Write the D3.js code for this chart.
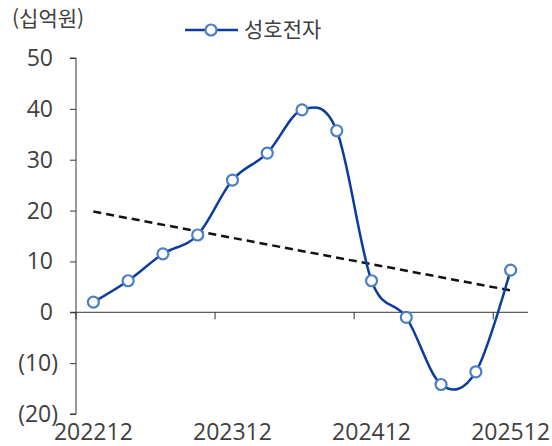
<!DOCTYPE html>
<html lang="ko">
<head>
<meta charset="UTF-8">
<title>성호전자</title>
<style>
  body { margin: 0; background: #fff; }
  svg text { font-family: "Open Sans", "Noto Sans CJK KR", sans-serif; fill: #404040; }
  .kr { font-family: "Noto Sans CJK KR", sans-serif; }
</style>
</head>
<body>
<div id="chart"></div>
<script src="https://d3js.org/d3.v7.min.js"></script>
<script>
  // quarterly periods
  const quarters = ["202212", "202303", "202306", "202309", "202312", "202403", "202406",
                    "202409", "202412", "202503", "202506", "202509", "202512"];
  const values = [2.0, 6.2, 11.5, 15.2, 26.0, 31.3, 39.8, 35.7, 6.2, -1.0, -14.2, -11.7, 8.3];
  // dashed trend line, first and last quarter
  const trendQuarters = ["202212", "202512"];
  const trendValues = [19.8, 4.3];
  const yTicks = [-20, -10, 0, 10, 20, 30, 40, 50];
  const xLabels = ["202212", "202312", "202412", "202512"];
  const seriesName = "성호전자";
  const unitLabel = "(십억원)";

  const width = 552, height = 446;
  const plot = { left: 76, right: 528, top: 58, bottom: 414 };

  const svg = d3.select("#chart").append("svg")
    .attr("width", width)
    .attr("height", height);

  const x = d3.scaleBand().domain(quarters).range([plot.left, plot.right]);
  const cx = d => x(d) + x.bandwidth() / 2;
  const y = d3.scaleLinear().domain([-20, 50]).range([plot.bottom, plot.top]);

  // y axis
  const yAxis = svg.append("g")
    .attr("transform", `translate(${plot.left},0)`)
    .call(d3.axisLeft(y).tickValues(yTicks).tickSize(6).tickPadding(0).tickFormat(""));
  yAxis.select(".domain").attr("d", `M-6,${plot.top}H0V${plot.bottom}H-6`).attr("stroke", "#333");
  yAxis.selectAll(".tick line").attr("stroke", "#333");

  svg.append("g").selectAll("text")
    .data(yTicks)
    .join("text")
    .attr("x", d => d < 0 ? 58 : 53)
    .attr("y", d => y(d))
    .attr("dy", "0.35em")
    .attr("text-anchor", "end")
    .attr("font-size", 23)
    .text(d => d < 0 ? `(${-d})` : d);

  // zero line with category ticks
  const xAxis = svg.append("g")
    .attr("transform", `translate(0,${y(0)})`)
    .call(d3.axisBottom(x).tickValues(xLabels).tickSize(7).tickFormat(""));
  xAxis.select(".domain").attr("d", `M${plot.left - 6},0H${plot.right}`).attr("stroke", "#333");
  xAxis.selectAll(".tick").attr("transform", d => `translate(${x(d)},0)`);
  xAxis.selectAll(".tick line").attr("stroke", "#333");

  svg.append("g").selectAll("text")
    .data(xLabels)
    .join("text")
    .attr("x", d => cx(d))
    .attr("y", 440)
    .attr("text-anchor", "middle")
    .attr("font-size", 23)
    .text(d => d);

  // trend
  svg.append("path")
    .datum(trendQuarters.map((q, i) => [cx(q), y(trendValues[i])]))
    .attr("d", d3.line())
    .attr("fill", "none")
    .attr("stroke", "#111")
    .attr("stroke-width", 2.5)
    .attr("stroke-dasharray", "8,5");

  // series
  const pts = quarters.map((q, i) => [cx(q), y(values[i])]);
  svg.append("path")
    .datum(pts)
    .attr("d", d3.line().curve(d3.curveCardinal.tension(0)))
    .attr("fill", "none")
    .attr("stroke", "#0c3d9c")
    .attr("stroke-width", 2.5);

  svg.append("g").selectAll("circle")
    .data(pts)
    .join("circle")
    .attr("cx", d => d[0])
    .attr("cy", d => d[1])
    .attr("r", 5.5)
    .attr("fill", "#fff")
    .attr("stroke", "#4a7fc1")
    .attr("stroke-width", 2.2);

  // unit label
  svg.append("text")
    .attr("class", "kr")
    .attr("x", 12)
    .attr("y", 26)
    .attr("font-size", 21)
    .text(unitLabel);

  // legend
  const lg = svg.append("g").attr("transform", "translate(185,30)");
  lg.append("line").attr("x1", 0).attr("x2", 53)
    .attr("stroke", "#0c3d9c").attr("stroke-width", 2.5);
  lg.append("circle").attr("cx", 26).attr("r", 5.5)
    .attr("fill", "#fff").attr("stroke", "#4a7fc1").attr("stroke-width", 2.2);
  lg.append("text").attr("class", "kr")
    .attr("x", 59).attr("dy", "0.35em")
    .attr("font-size", 21)
    .text(seriesName);
</script>
</body>
</html>
